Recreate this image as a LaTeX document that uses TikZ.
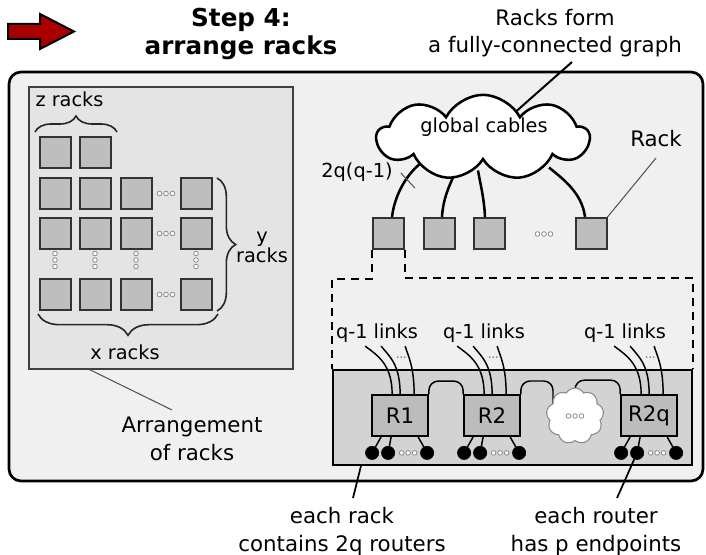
\documentclass[tikz,border=0pt]{standalone}
\usepackage{fontspec}
\setmainfont{DejaVu Sans}
\usetikzlibrary{shapes.symbols,decorations.pathreplacing,calc}

\definecolor{outerfill}{HTML}{F0F0F0}
\definecolor{panelfill}{HTML}{E4E4E4}
\definecolor{rackfill}{HTML}{BEBEBE}
\definecolor{rackrowfill}{HTML}{D3D3D3}
\definecolor{routerfill}{HTML}{BCBCBC}
\definecolor{arrowred}{HTML}{A80000}
\definecolor{pointergray}{HTML}{555555}
\definecolor{dotgray}{HTML}{8A8A8A}

\pgfdeclarelayer{back}
\pgfdeclarelayer{mid}
\pgfsetlayers{back,mid,main}

\tikzset{
  titletext/.style={font=\fontsize{18.5}{21}\selectfont\bfseries, inner sep=0pt},
  lbl/.style={font=\fontsize{16}{19}\selectfont, inner sep=0pt},
  slbl/.style={font=\fontsize{14.5}{17}\selectfont, inner sep=0pt},
  rackbox/.style={draw=black!80, fill=rackfill, line width=1.5pt,
    minimum size=23.25pt, inner sep=0pt},
  routerbox/.style={draw=black, fill=routerfill, line width=1.3pt,
    minimum width=42pt, minimum height=30.75pt, inner sep=0pt,
    font=\fontsize{16}{19}\selectfont},
  endpoint/.style={circle, fill=black, draw=black, minimum size=10pt, inner sep=0pt},
  cable/.style={line width=1.9pt},
  link/.style={line width=1.1pt},
  pointer/.style={draw=pointergray, line width=0.8pt},
  blackpointer/.style={line width=1.3pt},
  bracedeco/.style={decorate, line width=1.2pt, draw=black!85},
  dashedline/.style={line width=1.2pt, dash pattern=on 6pt off 4.5pt},
  pics/ooo/.style={code={
    \foreach \k in {-6.5,0,6.5}
      \draw[dotgray, line width=0.6pt, fill=white] (\k,0) circle[radius=2.3];
  }},
  pics/ooov/.style={code={
    \foreach \k in {-6.5,0,6.5}
      \draw[dotgray, line width=0.6pt, fill=white] (0,\k) circle[radius=2.3];
  }},
  pics/tinydots/.style={code={
    \foreach \k in {-3.5,0,3.5}
      \fill[dotgray] (\k,0) circle[radius=1];
  }},
}

\begin{document}
\begin{tikzpicture}[x=0.75pt,y=-0.75pt]
\useasboundingbox (0,0) rectangle (706,555);

% ---- heading ----
\draw[fill=arrowred, line width=1.5pt, line join=miter]
  (8,24) -- (40,24) -- (40,14) -- (74,31.5) -- (40,49) -- (40,39) -- (8,39) -- cycle;
\node[titletext, anchor=base] (title1) at (241,27) {Step 4:};
\node[titletext, anchor=base] (title2) at (241,55) {arrange racks};

\node[lbl, anchor=base] (form1) at (555,26) {Racks form};
\node[lbl, anchor=base] (form2) at (555,53) {a fully-connected graph};

% ---- frame and left panel ----
\begin{pgfonlayer}{back}
  \draw[fill=outerfill, line width=2pt, rounded corners=9pt] (9,72) rectangle (703,481);
\end{pgfonlayer}
\node[draw=black!75, fill=panelfill, line width=1.3pt, minimum width=198pt,
  minimum height=211.5pt, inner sep=0pt] (panel) at (161,228) {};

% rack grid
\node[rackbox] (g11) at (55,152.5) {};
\node[rackbox] (g12) at (95,152.5) {};
\foreach \r/\y in {2/193.5,3/233.5,4/294.5}{
  \foreach \c/\x in {1/55,2/95,3/136,4/196}{
    \node[rackbox] (g\r\c) at (\x,\y) {};
  }
  \pic at (166,\y) {ooo};
}
\foreach \x in {55,95,136,196}
  \pic at (\x,260) {ooov};

% braces
\draw[bracedeco, decoration={brace, amplitude=12pt}] (35,132) -- (117,132);
\node[slbl, anchor=base] (zlabel) at (69.5,107) {z racks};
\draw[bracedeco, decoration={brace, amplitude=14pt}] (217,178) -- (217,311);
\node[slbl, anchor=base] (ylabel1) at (262,243) {y};
\node[slbl, anchor=base] (ylabel2) at (262,263) {racks};
\draw[bracedeco, decoration={brace, amplitude=16pt}] (218,314) -- (38,314);
\node[slbl, anchor=base] (xlabel) at (125,360) {x racks};

\node[lbl, anchor=base] (arr1) at (192,432) {Arrangement};
\node[lbl, anchor=base] (arr2) at (192,460) {of racks};
\draw[pointer] ($(panel.south west)+(62,0)$) -- ($(arr1.base)+(-20,-22)$);

% ---- global network ----
\coordinate (gcc) at (483,137.5);
\node[rackbox] (ra) at (388.5,233.5) {};
\node[rackbox] (rb) at (439,233.5) {};
\node[rackbox] (rc) at (489.5,233.5) {};
\node[rackbox] (rd) at (591,233.5) {};
\pic at (544,234) {ooo};

\begin{pgfonlayer}{mid}
  \draw[cable] ($(ra.north)+(3.5,0)$) .. controls +(3,-25) and +(-14,10) .. ($(gcc)+(-60,24)$);
  \draw[cable] ($(rb.north)+(3,0)$) .. controls +(1,-20) and +(-5,12) .. ($(gcc)+(-27,33)$);
  \draw[cable] ($(rc.north)+(-4.5,0)$) .. controls +(-1,-20) and +(2,12) .. ($(gcc)+(-5,33)$);
  \draw[cable] ($(rd.north)+(-6,0)$) .. controls +(-3,-25) and +(12,10) .. ($(gcc)+(66,30)$);
  \draw[line width=1.5pt] ($(form2.base)+(17,9)$) -- ($(gcc)+(33,-26)$);
\end{pgfonlayer}

\node[cloud, draw, fill=white, line width=1.9pt, cloud puffs=9, cloud puff arc=125,
  aspect=2.5, minimum width=159pt, minimum height=64pt, inner sep=0pt] (gc) at (gcc) {};
\node[slbl, anchor=base] (gclabel) at (484,133) {global cables};

\node[slbl, anchor=base] (qlabel) at (357,178) {2q(q-1)};
\draw[pointer] ($(qlabel.base east)+(8,-5)$) -- ($(qlabel.base east)+(22,10)$);

\node[lbl, anchor=base] (racklabel) at (656,147) {Rack};
\draw[pointer] ($(racklabel.base)+(0,11)$) -- (rd.north east);

% ---- inside one rack ----
\node[draw=black, fill=rackrowfill, line width=1.6pt, minimum width=269.25pt,
  minimum height=71.25pt, inner sep=0pt] (rk) at (512.5,417.5) {};

\draw[dashedline] (ra.south west) -- ++(0,29) -| (rk.north west);
\draw[dashedline] (ra.south east) -- ++(0,28) -| (rk.north east);

\node[routerbox] (R1) at (400,415.5) {R1};
\node[routerbox] (R2) at (492,415.5) {R2};
\node[routerbox] (R2q) at (649,415.5) {R2q};

% local links between routers
\coordinate (scc) at (575,416);
\draw[link, rounded corners=7pt] (R1.north east) |- ($(R1.north east)!0.5!(R2.north west)+(0,-13)$) -| (R2.north west);
\draw[link, rounded corners=7pt] (R2.north east) |- ($(scc)+(-22,-35)$) -- ($(scc)+(-22,-10)$);
\draw[link, rounded corners=7pt] ($(scc)+(0,-12)$) |- ($(R2q.north west)+(0,-14)$) -- (R2q.north west);
\node[cloud, draw=dotgray, fill=white, line width=0.8pt, cloud puffs=9, cloud puff arc=120,
  aspect=1, minimum width=43pt, minimum height=42pt, inner sep=0pt] (sc) at (scc) {};
\pic at (sc.center) {ooo};

% global links and endpoints per router
\foreach \r in {R1,R2,R2q}{
  \draw[link] ($(\r.north west)+(21,0)$) .. controls +(0,-30) and +(12,9) .. ($(\r.north west)+(-6,-48)$);
  \draw[link] ($(\r.north west)+(29,0)$) .. controls +(0,-30) and +(8,10) .. ($(\r.north west)+(10,-48)$);
  \draw[link] ($(\r.north west)+(43,0)$) .. controls +(0,-28) and +(3,10) .. ($(\r.north west)+(34,-48)$);
  \pic at ($(\r.north west)+(30,-37)$) {tinydots};
  \node[endpoint] (\r-e1) at ($(\r.south west)+(1,16)$) {};
  \node[endpoint] (\r-e2) at ($(\r.south west)+(17,16)$) {};
  \node[endpoint] (\r-e3) at ($(\r.south west)+(56,16)$) {};
  \draw[link] ($(\r.south west)+(10,0)$) -- (\r-e1);
  \draw[link] ($(\r.south west)+(20,0)$) -- (\r-e2);
  \draw[link] ($(\r.south west)+(47,0)$) -- (\r-e3);
  \pic at ($(\r.south west)+(37,16)$) {ooo};
}

\node[slbl, anchor=base] (ql1) at (377,339) {q-1 links};
\node[slbl, anchor=base] (ql2) at (484,339) {q-1 links};
\node[slbl, anchor=base] (ql3) at (625,339) {q-1 links};

% ---- captions below ----
\node[lbl, anchor=base] (cap1) at (342,523) {each rack};
\node[lbl, anchor=base] (cap2) at (342,551) {contains 2q routers};
\node[lbl, anchor=base] (cap3) at (596,523) {each router};
\node[lbl, anchor=base] (cap4) at (596,551) {has p endpoints};
\draw[blackpointer] ($(rk.south west)+(29,0)$) -- ($(cap1.base)+(11,-25)$);
\draw[blackpointer] (R2q-e2) -- ($(cap3.base)+(21,-25)$);
\end{tikzpicture}
\end{document}
